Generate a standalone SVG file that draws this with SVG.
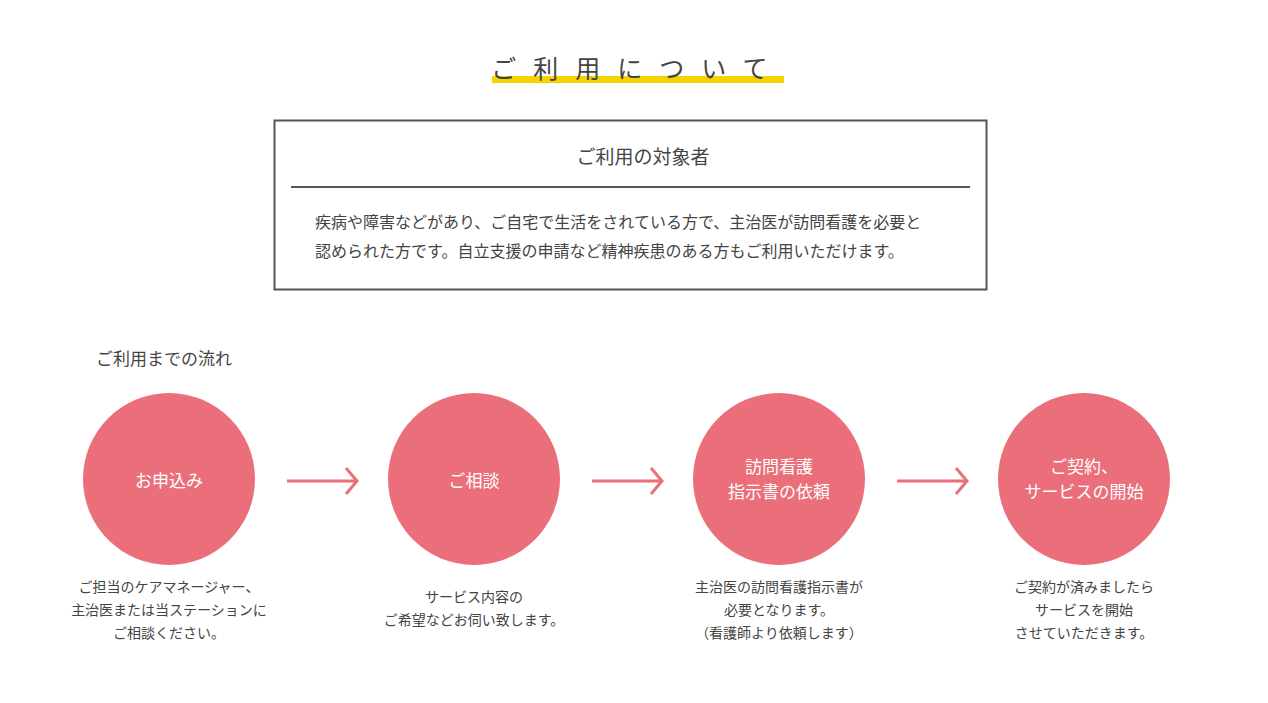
<svg xmlns="http://www.w3.org/2000/svg" width="1268" height="703" viewBox="0 0 1268 703">
<style>
text{font-family:"Noto Sans CJK JP","Noto Sans",sans-serif;fill:#444}
.c{fill:#ea6f7a}
.ct{fill:#fff;font-size:17px;text-anchor:middle}
.d{font-size:14px;text-anchor:middle;fill:#444}
.a{stroke:#ea6f7a;stroke-width:3;fill:none}
</style>
<rect width="1268" height="703" fill="#fff"/>
<rect x="492" y="76" width="292" height="7" fill="#f5d300"/>
<text x="638" y="78" font-size="25" text-anchor="middle" letter-spacing="17" fill="#444">ご利用について</text>
<g id="target">
<rect x="274.5" y="120.5" width="712" height="169" fill="none" stroke="#555" stroke-width="2"/>
<text x="643" y="164" font-size="19" text-anchor="middle">ご利用の対象者</text>
<line x1="291" y1="187" x2="970" y2="187" stroke="#555" stroke-width="2"/>
<text x="315" y="228" font-size="16">疾病や障害などがあり、ご自宅で生活をされている方で、主治医が訪問看護を必要と</text>
<text x="315" y="257" font-size="16">認められた方です。自立支援の申請など精神疾患のある方もご利用いただけます。</text>
</g>
<text x="96" y="365" font-size="17">ご利用までの流れ</text>
<g id="step1"><circle class="c" cx="169" cy="479" r="86"/><text class="ct" x="169" y="487">お申込み</text>
<text class="d" x="169" y="592">ご担当のケアマネージャー、</text><text class="d" x="169" y="615">主治医または当ステーションに</text><text class="d" x="169" y="638">ご相談ください。</text></g>
<g id="step2"><circle class="c" cx="474" cy="479" r="86"/><text class="ct" x="474" y="487">ご相談</text>
<text class="d" x="474" y="602">サービス内容の</text><text class="d" x="474" y="625">ご希望などお伺い致します。</text></g>
<g id="step3"><circle class="c" cx="779" cy="479" r="86"/><text class="ct" x="779" y="473">訪問看護</text><text class="ct" x="779" y="498">指示書の依頼</text>
<text class="d" x="779" y="592">主治医の訪問看護指示書が</text><text class="d" x="779" y="615">必要となります。</text><text class="d" x="779" y="638">（看護師より依頼します）</text></g>
<g id="step4"><circle class="c" cx="1084" cy="479" r="86"/><text class="ct" x="1084" y="473">ご契約、</text><text class="ct" x="1084" y="498">サービスの開始</text>
<text class="d" x="1084" y="592">ご契約が済みましたら</text><text class="d" x="1084" y="615">サービスを開始</text><text class="d" x="1084" y="638">させていただきます。</text></g>
<g id="connectors">
<path class="a" d="M287 481H356M346 468L357 481L346 494"/>
<path class="a" d="M592 481H661M651 468L662 481L651 494"/>
<path class="a" d="M897 481H966M956 468L967 481L956 494"/>
</g>
</svg>
